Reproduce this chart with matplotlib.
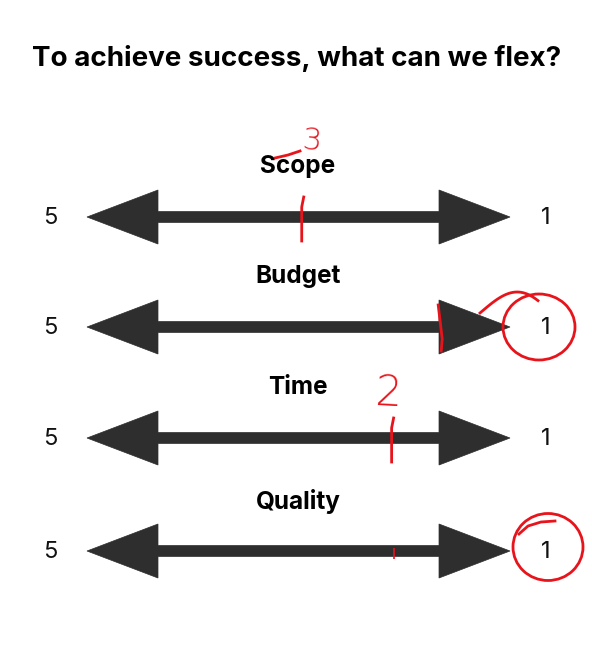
import matplotlib
matplotlib.use("Agg")
import matplotlib.pyplot as plt
from matplotlib.patches import Polygon, Ellipse
import numpy as np

# ---- data ----
title = "To achieve success, what can we flex?"
categories = ["Scope", "Budget", "Time", "Quality"]
scale_ends = [5, 1]            # left end, right end of each scale
ratings = [3, 1, 2, 1]          # hand-written answers
mark_values = [2.96, 1.66, 2.11, 2.10]  # where the red tick marks were drawn

# ---- layout (pixels) ----
W, H = 592, 657
row_y = [217, 327, 438, 551]
left_px, right_px = 87, 510
ppu = (right_px - left_px) / (scale_ends[0] - scale_ends[1])   # pixels per unit


def xv(px):
    return scale_ends[0] - (px - left_px) / ppu


fig = plt.figure(figsize=(W / 100, H / 100), dpi=100)
ax = fig.add_axes([0, 0, 1, 1])
ax.set_xlim(xv(0), xv(W))
ax.set_ylim(H, 0)
ax.axis("off")

FONT = ["Inter", "DejaVu Sans"]
dark = "#2e2e2e"
red = "#e8141c"

ax.text(xv(297), 58, title, ha="center", va="center", fontsize=20,
        fontweight="bold", family=FONT, color="#000000")

hl = 71 / ppu   # head length in units
hh = 27         # head half height px
sh = 5.5        # shaft half height px

for i, (cat, y) in enumerate(zip(categories, row_y)):
    L, R = scale_ends
    pts = [(L, y), (L - hl, y - hh), (L - hl, y - sh), (R + hl, y - sh),
           (R + hl, y - hh), (R, y), (R + hl, y + hh), (R + hl, y + sh),
           (L - hl, y + sh), (L - hl, y + hh)]
    ax.add_patch(Polygon(pts, closed=True, facecolor=dark, edgecolor=dark, lw=0.5))
    ax.text(xv(298), y - 50, cat, ha="center", va="center", fontsize=17.5,
            fontweight="bold", family=FONT, color="#000000")
    ax.text(L + 37 / ppu, y + 1, str(L), ha="center", va="center", fontsize=17,
            family=FONT, color="#111111")
    ax.text(R - 36 / ppu, y + 1, str(R), ha="center", va="center", fontsize=17,
            family=FONT, color="#111111")

    # red hand annotations
    r = ratings[i]
    m = mark_values[i]
    if cat == "Quality":
        # faint, mostly erased tick
        ax.plot([m, m], [y - 3, y + 8], color=red, lw=1.2, solid_capstyle="butt")
    elif cat == "Budget":
        ax.plot([m + 2 / ppu, m, m - 2 / ppu, m - 1 / ppu],
                [y - 22, y - 5, y + 12, y + 24], color=red, lw=2)
    else:
        ax.plot([m - 1 / ppu, m + 1 / ppu, m + 1 / ppu],
                [y - 20, y - 10, y + 24], color=red, lw=2)

    if r == 1:
        if cat == "Budget":
            ax.add_patch(Ellipse((xv(539), y), 72 / ppu, 66,
                                 fill=False, edgecolor=red, lw=2))
            # loop stroke coming from the arrow head
            t = np.linspace(0, 1, 30)
            xs = 480 + 62 * t - 4 * t ** 2
            ys = y - 14 - 21 * np.sin(np.pi * t * 0.8)
            ax.plot([xv(p) for p in xs], ys, color=red, lw=2)
        else:
            ax.add_patch(Ellipse((xv(548), y - 4), 70 / ppu, 67,
                                 fill=False, edgecolor=red, lw=2))
            ax.plot([xv(555), xv(541), xv(528), xv(519)],
                    [y - 30, y - 29, y - 25, y - 17], color=red, lw=2)
    else:
        if cat == "Time":
            ax.text(m + 5 / ppu, y - 45, str(r), ha="center", va="center",
                    fontsize=30, color=red, family=["DejaVu Sans"],
                    fontweight="light", rotation=-3)
        else:
            ax.text(m - 9 / ppu, y - 76, str(r), ha="center", va="center",
                    fontsize=22, color=red, family=["DejaVu Sans"],
                    fontweight="light", rotation=-4)
            ax.plot([xv(275), xv(288), xv(300)], [y - 59, y - 62, y - 66],
                    color=red, lw=2)

fig.savefig("out.png", dpi=100, facecolor="white")
